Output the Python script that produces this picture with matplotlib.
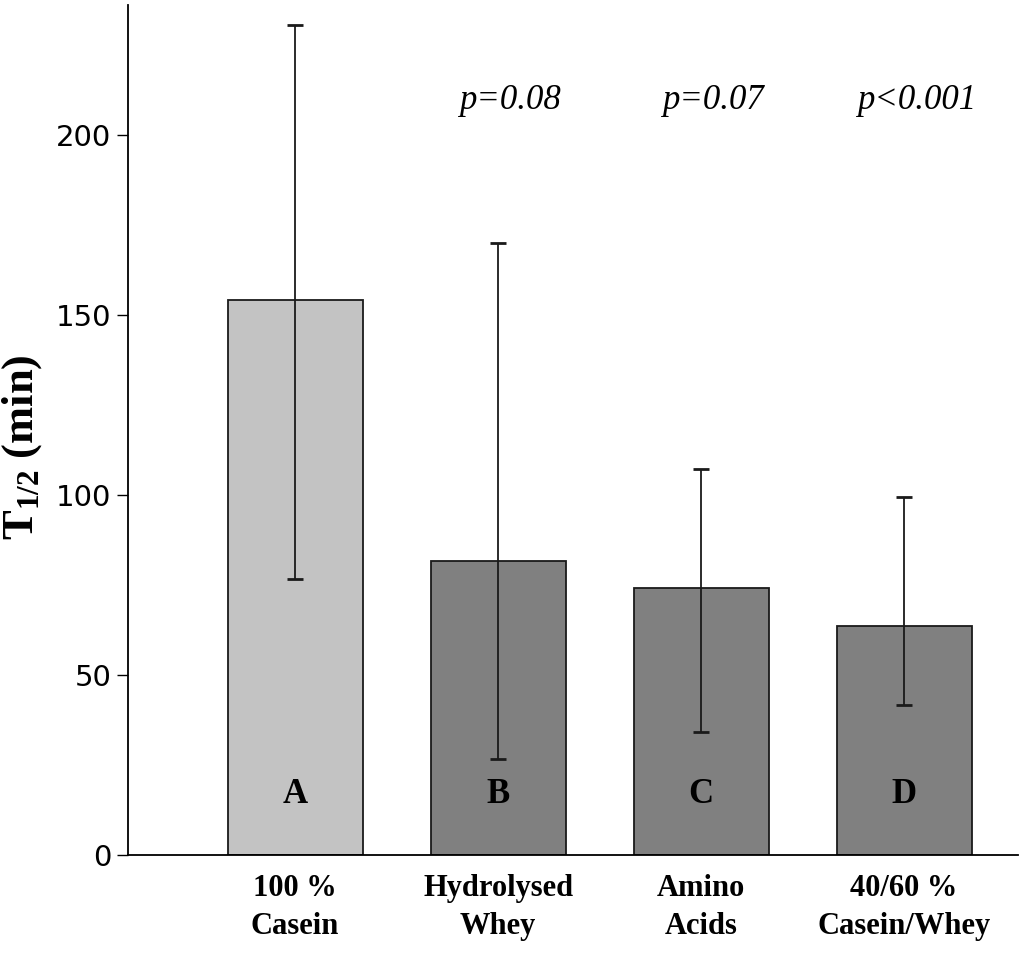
import matplotlib
matplotlib.use('Agg')
from matplotlib import pyplot as plt

# data
groups = ['100 %\nCasein', 'Hydrolysed\nWhey', 'Amino\nAcids', '40/60 %\nCasein/Whey']
letters = ['A', 'B', 'C', 'D']
t_half = [154.2, 81.7, 74.2, 63.6]
err_low = [76.5, 26.7, 34.2, 41.7]
err_high = [230.5, 170.0, 107.2, 99.4]
p_labels = ['', 'p=0.08', 'p=0.07', 'p<0.001']
colors = ['#c3c3c3', '#808080', '#808080', '#808080']

plt.rcParams['mathtext.default'] = 'regular'
serif = 'Liberation Serif'

fig = plt.figure(figsize=(10.24, 9.59), dpi=100)
ax = fig.add_axes([0.125, 0.1084, 0.869, 0.8864])

x = list(range(len(groups)))
yerr = [[m - lo for m, lo in zip(t_half, err_low)],
        [hi - m for m, hi in zip(t_half, err_high)]]
ax.bar(x, t_half, width=0.665, color=colors, edgecolor='#1a1a1a', linewidth=1.3, zorder=2)
ax.errorbar(x, t_half, yerr=yerr, fmt='none', ecolor='#1a1a1a', elinewidth=1.3,
            capsize=6, capthick=2, zorder=3)

for i, s in enumerate(letters):
    ax.text(i, 16.7, s, ha='center', va='center', fontsize=25, fontweight='bold',
            family=serif, zorder=4)
for i, s in enumerate(p_labels):
    if s:
        ax.text(i + 0.06, 209.5, s, ha='center', va='center', fontsize=25,
                style='italic', family=serif)

ax.set_xlim(-0.823, 3.56)
ax.set_ylim(0, 236)
ax.set_yticks([0, 50, 100, 150, 200])
ax.tick_params(axis='y', direction='out', length=8, width=1, labelsize=21, pad=4)
ax.tick_params(axis='x', length=0, pad=14)
ax.set_xticks(x)
ax.set_xticklabels(groups, fontsize=22, fontweight='bold', family=serif, linespacing=1.4)

ax.set_ylabel(r'T$_{1/2}$ (min)', fontsize=32, fontweight='bold', family=serif)
ax.yaxis.set_label_coords(-0.094, 0.48)

for side in ['top', 'right']:
    ax.spines[side].set_visible(False)
ax.spines['left'].set_linewidth(1.3)
ax.spines['bottom'].set_linewidth(1.3)

fig.savefig('out.png', dpi=100)
